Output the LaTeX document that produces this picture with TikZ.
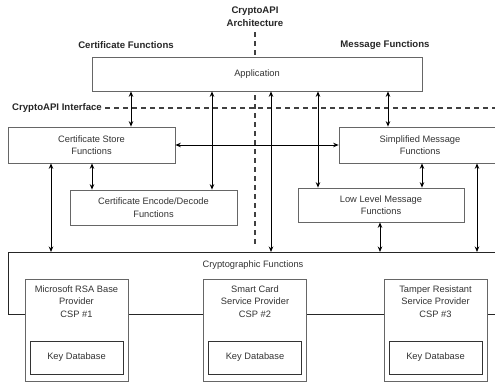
\documentclass[tikz,border=0pt]{standalone}
\usepackage{fontspec}
\setmainfont{Liberation Sans}
\usetikzlibrary{arrows.meta}
\begin{document}
\begin{tikzpicture}[x=1pt,y=-1pt,
  txt/.style={font=\fontsize{9.3}{12.5}\selectfont, text=black!80, align=center},
  head/.style={font=\fontsize{9.6}{12.8}\selectfont\bfseries, text=black!85, align=center},
  fnbox/.style={txt, draw=black!60, line width=0.7pt, fill=white, inner sep=0pt},
  keybox/.style={txt, draw=black!80, line width=0.8pt, fill=white, inner sep=0pt},
  arr/.style={black, line width=0.9pt, {Stealth[length=5.5pt,width=4.5pt]}-{Stealth[length=5.5pt,width=4.5pt]}},
  divider/.style={black!75, line width=1.1pt, dash pattern=on 5pt off 4pt}
]
\useasboundingbox (0,0) rectangle (495,383);

% headings
\node[head] (title) at (255,17) {CryptoAPI\\Architecture};
\node[head] (certfn) at (126,45) {Certificate Functions};
\node[head] (msgfn) at (385,45) {Message Functions};
\node[head, anchor=west, inner sep=0pt] (iface) at (12,108) {CryptoAPI Interface};

% dividing lines
\coordinate (vtop) at (255,32);
\coordinate (vbot) at (255,247);
\coordinate (hend) at (496,108);
\draw[divider] (vtop) -- (vbot);
\draw[divider] ([xshift=3pt]iface.east) -- (hend);

% cryptographic functions frame (drawn first, providers sit over its bottom edge)
\draw[black!85, line width=0.9pt] (8,252) rectangle (502,314);
\node[txt] (crypto) at (253,265) {Cryptographic Functions};
\coordinate (cryptotop) at (255,252);

% function boxes
\node[fnbox, minimum width=330pt, minimum height=34pt] (app) at (257,74) {Application};
\node[fnbox, minimum width=167pt, minimum height=36pt] (certstore) at (91.5,145) {Certificate Store\\Functions};
\node[fnbox, minimum width=162pt, minimum height=36pt] (simpmsg) at (420,145) {Simplified Message\\Functions};
\node[fnbox, minimum width=167pt, minimum height=35pt] (certenc) at (153.5,207.5) {Certificate Encode/Decode\\Functions};
\node[fnbox, minimum width=166pt, minimum height=34pt] (lowmsg) at (381,205) {Low Level Message\\Functions};

% providers
\foreach \n/\x/\lbl in {p1/76.5/{Microsoft RSA Base\\Provider\\CSP \#1},
                        p2/255/{Smart Card\\Service Provider\\CSP \#2},
                        p3/435.5/{Tamper Resistant\\Service Provider\\CSP \#3}}{
  \node[fnbox, minimum width=103pt, minimum height=102pt] (\n) at (\x,330) {};
  \node[txt, anchor=north] (\n t) at (\x,282) {\lbl};
  \node[keybox, minimum width=93pt, minimum height=33pt] (\n k) at (\x,357.5) {Key Database};
}

% connector columns
\coordinate (c1) at (131,0);
\coordinate (c2) at (212,0);
\coordinate (c3) at (271,0);
\coordinate (c4) at (318,0);
\coordinate (c5) at (388,0);
\coordinate (c6) at (92,0);
\coordinate (c7) at (51,0);
\coordinate (c8) at (422,0);
\coordinate (c9) at (380,0);
\coordinate (c10) at (477,0);

\draw[arr] (app.south -| c1) -- (certstore.north -| c1);
\draw[arr] (app.south -| c2) -- (certenc.north -| c2);
\draw[arr] (app.south -| c3) -- (cryptotop -| c3);
\draw[arr] (app.south -| c4) -- (lowmsg.north -| c4);
\draw[arr] (app.south -| c5) -- (simpmsg.north -| c5);
\draw[arr] (certstore.east) -- (simpmsg.west);
\draw[arr] (certstore.south -| c6) -- (certenc.north -| c6);
\draw[arr] (certstore.south -| c7) -- (cryptotop -| c7);
\draw[arr] (simpmsg.south -| c8) -- (lowmsg.north -| c8);
\draw[arr] (lowmsg.south -| c9) -- (cryptotop -| c9);
\draw[arr] (simpmsg.south -| c10) -- (cryptotop -| c10);
\end{tikzpicture}
\end{document}
